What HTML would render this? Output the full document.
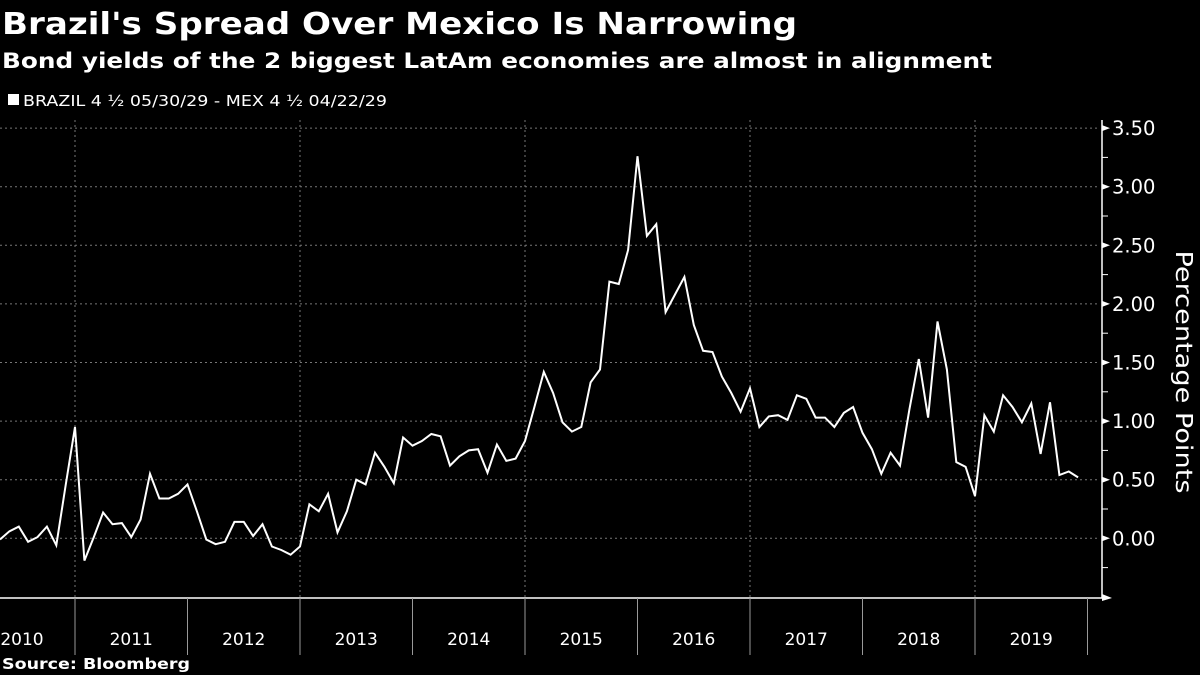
<!DOCTYPE html>
<html><head><meta charset="utf-8">
<style>
body{margin:0;background:#000;width:1200px;height:675px;overflow:hidden;font-family:"DejaVu Sans","Liberation Sans",sans-serif;color:#fff}
svg{position:absolute;left:0;top:0}
</style></head>
<body>
<svg id="chart" width="1200" height="675">
<text x="2" y="34" font-size="30" font-weight="bold" fill="#fff" textLength="795" lengthAdjust="spacingAndGlyphs">Brazil's Spread Over Mexico Is Narrowing</text>
<text x="2" y="68" font-size="21.5" font-weight="bold" fill="#fff" textLength="990" lengthAdjust="spacingAndGlyphs">Bond yields of the 2 biggest LatAm economies are almost in alignment</text>
<rect x="8" y="94" width="11" height="11" fill="#fff"/>
<text x="23" y="106" font-size="15" fill="#fff" textLength="364" lengthAdjust="spacingAndGlyphs">BRAZIL 4 ½ 05/30/29 - MEX 4 ½ 04/22/29</text>
<g id="grid"></g>
<g id="axes"></g>
<polyline id="line" fill="none" stroke="#fff" stroke-width="2" stroke-linejoin="miter"/>
<text transform="translate(1176,372) rotate(90)" text-anchor="middle" font-size="23" fill="#fff" textLength="243" lengthAdjust="spacingAndGlyphs">Percentage Points</text>
<text x="2" y="669" font-size="15" font-weight="bold" fill="#fff" textLength="188" lengthAdjust="spacingAndGlyphs">Source: Bloomberg</text>
</svg>
<script>
const values=[-0.01,0.06,0.10,-0.03,0.01,0.10,-0.06,0.45,0.95,-0.19,0.01,0.22,0.12,0.13,0.01,0.16,0.55,0.34,0.34,0.38,0.46,0.23,-0.01,-0.05,-0.03,0.14,0.14,0.02,0.12,-0.07,-0.10,-0.14,-0.07,0.29,0.23,0.38,0.05,0.23,0.50,0.46,0.73,0.61,0.47,0.86,0.79,0.83,
0.89,0.87,0.62,0.70,0.75,0.76,0.56,0.80,0.66,0.68,0.83,1.12,1.42,1.24,0.99,0.91,0.95,1.33,1.44,2.19,2.17,2.46,3.26,2.58,2.68,1.93,2.08,2.23,1.82,1.60,1.59,1.38,1.24,1.08,1.28,0.95,
1.04,1.05,1.01,1.22,1.19,1.03,1.03,0.95,1.07,1.12,0.90,0.76,0.55,0.73,0.62,1.10,1.53,1.03,1.85,1.44,0.65,0.61,0.36,1.05,0.91,1.22,1.12,0.99,1.15,0.72,1.16,0.54,0.57,0.52];
const years=["2010","2011","2012","2013","2014","2015","2016","2017","2018","2019"];
const yTicks=[0,0.5,1,1.5,2,2.5,3,3.5];
const startMonth=4; // May 2010
const NS="http://www.w3.org/2000/svg";
const x0=-37.5, yearW=112.5;
function xm(m){return x0+m*yearW/12;}
function y(v){return 538.3-v*117.2;}
const grid=document.getElementById('grid'), axes=document.getElementById('axes');
function mk(tag,attrs,parent){const e=document.createElementNS(NS,tag);for(const k in attrs)e.setAttribute(k,attrs[k]);parent.appendChild(e);return e;}
yTicks.forEach(t=>{
  const l=mk('line',{x1:0,x2:1100,y1:y(t),y2:y(t),stroke:'#777','stroke-width':1,'stroke-dasharray':'2,3'},grid);
  
  
  const lab=mk('text',{x:1112,y:y(t)+7,'font-size':19.5,fill:'#fff'},axes);
  lab.textContent=t.toFixed(2);
  
  
  const tk=mk('path',{d:`M1102 ${y(t)-3}L1110 ${y(t)}L1102 ${y(t)+3}Z`,fill:'#fff'},axes);
  
  
});
for(let t=-0.25;t<3.6;t+=0.5){
  const tk=mk('line',{x1:1102,x2:1108,y1:y(t),y2:y(t),stroke:'#fff','stroke-width':1},axes);
  
  
}
for(let i=1;i<=years.length;i+=2){
  const gx=xm(i*12);
  const l=mk('line',{x1:gx,x2:gx,y1:120,y2:597,stroke:'#777','stroke-width':1,'stroke-dasharray':'2,3'},grid);
  
  
}
let a=mk('line',{x1:1102,x2:1102,y1:120,y2:598,stroke:'#fff','stroke-width':1.5},axes);


a=mk('line',{x1:0,x2:1102,y1:598,y2:598,stroke:'#fff','stroke-width':1.5},axes);


a=mk('path',{d:'M1102 594L1112 598L1102 601Z',fill:'#fff'},axes);


years.forEach((yr,i)=>{
  const lab=mk('text',{x:xm(i*12+6),y:645,'font-size':17,fill:'#fff','text-anchor':'middle'},axes);
  if(i===0)lab.setAttribute('x',22);
  lab.textContent=yr;
  
  
  const sx=xm((i+1)*12);
  const s=mk('line',{x1:sx,x2:sx,y1:598,y2:655,stroke:'#999','stroke-width':1},axes);
  
  
});
document.getElementById('line').setAttribute('points',values.map((v,i)=>xm(startMonth+i).toFixed(1)+','+y(v).toFixed(1)).join(' '));
</script>
</body></html>
